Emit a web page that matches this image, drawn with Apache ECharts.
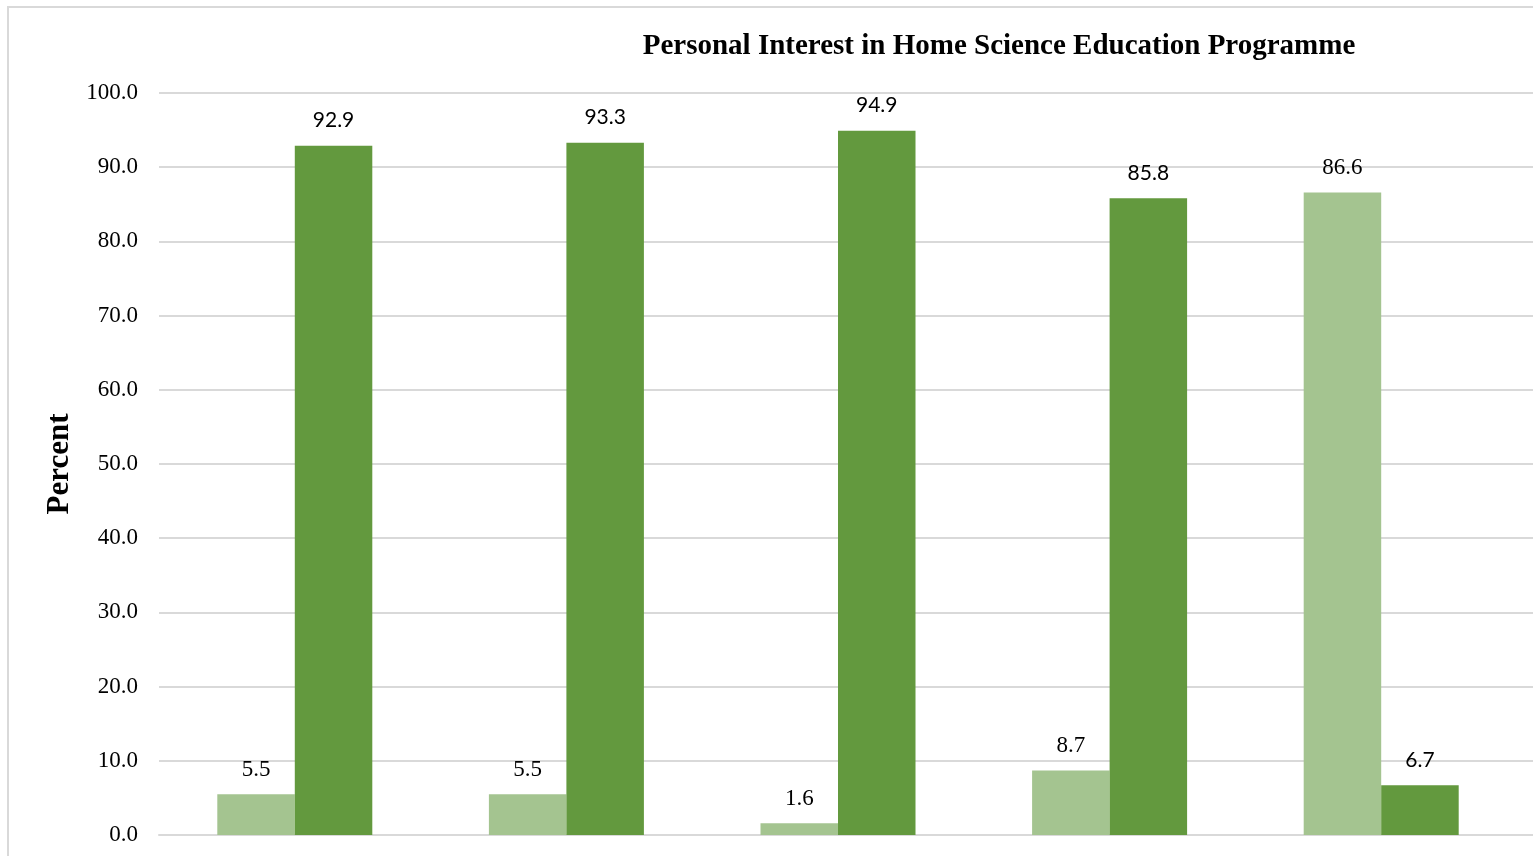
<!DOCTYPE html>
<html>
<head>
<meta charset="utf-8">
<script src="https://cdn.jsdelivr.net/npm/echarts@6/dist/echarts.min.js"></script>
<style>
html,body{margin:0;padding:0;background:#fff;overflow:hidden;}
#frame{position:absolute;left:7px;top:6px;width:1600px;height:900px;border:2px solid #d9d9d9;box-sizing:border-box;}
#chart{position:absolute;left:0;top:0;width:1533px;height:856px;}
</style>
</head>
<body>
<div id="frame"></div>
<div id="chart"></div>
<script>
var categories = ['Group 1', 'Group 2', 'Group 3', 'Group 4', 'Group 5'];
var lightValues = [5.5, 5.5, 1.6, 8.7, 86.6];
var darkValues = [92.9, 93.3, 94.9, 85.8, 6.7];
var yTicks = {min: 0, max: 100, interval: 10};

var chart = echarts.init(document.getElementById('chart'));
chart.setOption({
  animation: false,
  title: {
    text: 'Personal Interest in Home Science Education Programme',
    left: 994, top: 27, textAlign: 'center',
    textStyle: {fontFamily: 'Liberation Serif', fontWeight: 'bold', fontSize: 29, color: '#000'}
  },
  grid: [
    {left: 159, top: 93, width: 1358, bottom: 21, containLabel: false},
    {left: 159, top: 93, right: 0, bottom: 21, containLabel: false}
  ],
  xAxis: [
    {
      type: 'category', data: categories, gridIndex: 0,
      axisLine: {show: true, lineStyle: {color: '#d9d9d9', width: 2}},
      axisTick: {show: false}, axisLabel: {show: false}, z: 3
    },
    {
      type: 'category', data: categories, gridIndex: 1, show: false
    }
  ],
  yAxis: [
    {
      type: 'value', gridIndex: 0, min: yTicks.min, max: yTicks.max, interval: yTicks.interval,
      name: 'Percent', nameLocation: 'middle', nameGap: 83, nameRotate: 90,
      nameTextStyle: {fontFamily: 'Liberation Serif', fontWeight: 'bold', fontSize: 31, color: '#000'},
      axisLine: {show: false}, axisTick: {show: false},
      axisLabel: {formatter: function (v) { return v.toFixed(1); }, margin: 21,
        fontFamily: 'Liberation Serif', fontSize: 23, color: '#000'},
      splitLine: {show: false}
    },
    {
      type: 'value', gridIndex: 1, min: yTicks.min, max: yTicks.max, interval: yTicks.interval,
      axisLine: {show: false}, axisTick: {show: false}, axisLabel: {show: false},
      splitLine: {lineStyle: {color: '#d9d9d9', width: 2}}, z: 0
    }
  ],
  series: [
    {
      type: 'bar', data: lightValues, barWidth: 77.5, barGap: '0%',
      xAxisIndex: 0, yAxisIndex: 0, z: 5,
      itemStyle: {color: '#A4C490'},
      label: {show: true, position: 'top', distance: 13,
        formatter: function (p) { return p.value.toFixed(1); },
        fontFamily: 'Liberation Serif', fontSize: 23, color: '#000'}
    },
    {
      type: 'bar', data: darkValues, barWidth: 77.5, barGap: '0%',
      xAxisIndex: 0, yAxisIndex: 0, z: 5,
      itemStyle: {color: '#63993E'},
      label: {show: true, position: 'top', distance: 15,
        formatter: function (p) { return p.value.toFixed(1); },
        fontFamily: 'Lato', fontSize: 21, color: '#000'}
    }
  ]
});
</script>
</body>
</html>
